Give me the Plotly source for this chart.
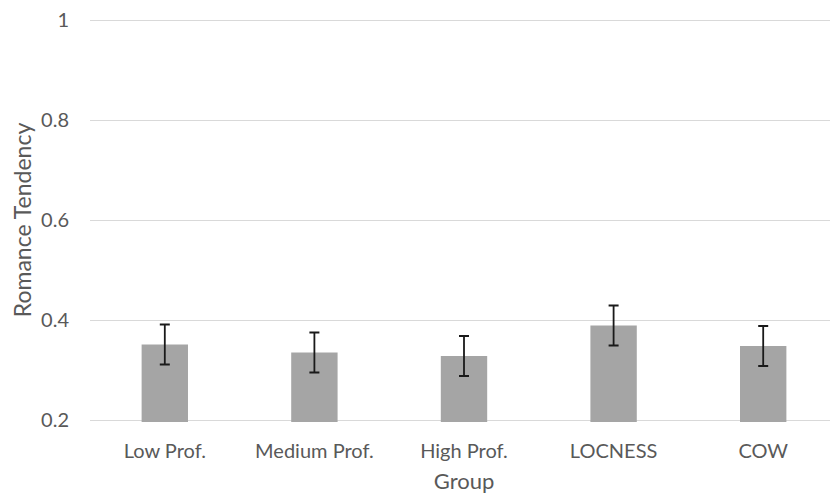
import plotly.graph_objects as go

groups = ["Low Prof.", "Medium Prof.", "High Prof.", "LOCNESS", "COW"]
tendency = [0.351, 0.335, 0.328, 0.389, 0.348]
errors = [0.04, 0.04, 0.04, 0.04, 0.04]
y_ticks = [0.2, 0.4, 0.6, 0.8, 1]
y_tick_labels = ["0.2", "0.4", "0.6", "0.8", "1"]

font_family = "Lato, 'Open Sans', sans-serif"
grey = "#595959"

fig = go.Figure(go.Bar(
    x=groups, y=tendency,
    marker=dict(color="#a5a5a5", line=dict(width=0)),
    width=0.31,
    error_y=dict(type="data", array=errors, visible=True,
                 color="#1a1a1a", thickness=1.8, width=5),
))

# page body has an 8px default margin, so the figure is sized/offset to compensate
fig.update_layout(
    width=830, height=488,
    margin=dict(l=82, r=0, t=10, b=74),
    plot_bgcolor="white", paper_bgcolor="white",
    showlegend=False,
    font=dict(family=font_family, size=20, color=grey),
    xaxis=dict(
        automargin=False,
        showgrid=False, showline=False, ticks="",
        tickfont=dict(size=20, color=grey),
        ticklabelstandoff=15,
        title=dict(text="Group", font=dict(size=22, color=grey), standoff=12),
    ),
    yaxis=dict(
        automargin=False,
        range=[0.196, 1.004], tickvals=y_ticks, ticktext=y_tick_labels,
        showgrid=True, gridcolor="#d9d9d9", gridwidth=1.3,
        zeroline=False, showline=False, ticks="",
        tickfont=dict(size=20, color=grey),
        ticklabelstandoff=20,
        ticklabeloverflow="allow",
        title=dict(text="Romance Tendency", font=dict(size=23, color=grey), standoff=6),
    ),
)

fig.write_html("out.html")
